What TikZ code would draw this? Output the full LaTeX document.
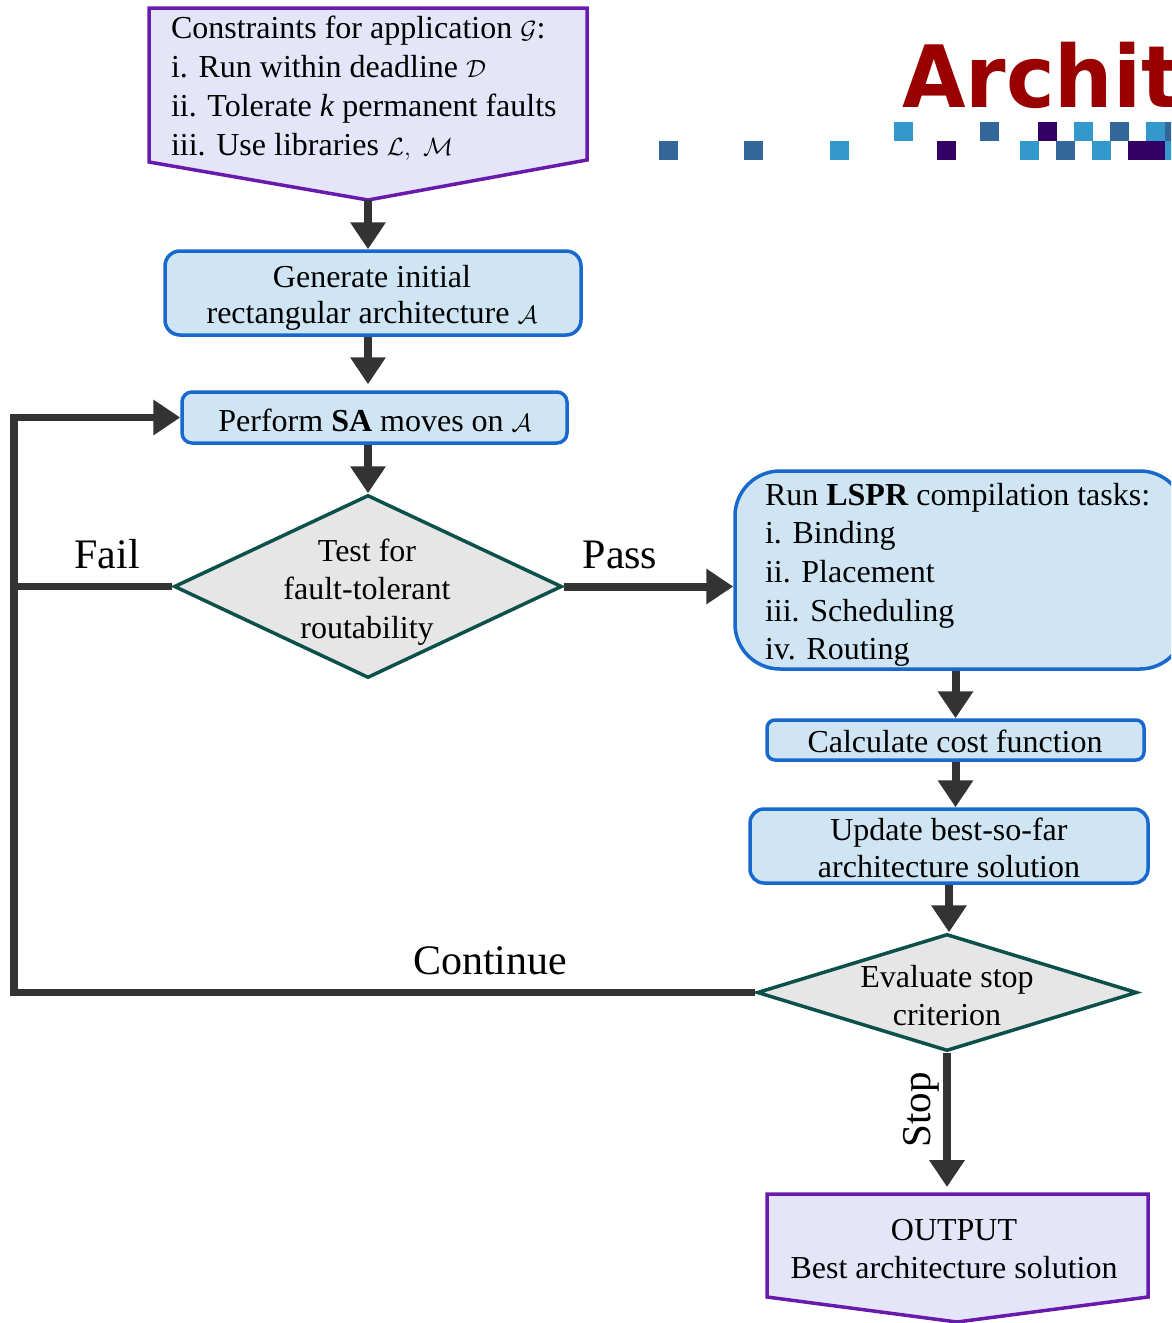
\documentclass[tikz,border=0pt]{standalone}
\usepackage{fontspec}
\setmainfont{Liberation Serif}
\newfontfamily\logofont{DejaVu Sans}
\usetikzlibrary{arrows.meta,shapes.geometric}

\definecolor{procblue}{RGB}{24,104,206}
\definecolor{procfill}{RGB}{207,229,244}
\definecolor{decgreen}{RGB}{12,80,76}
\definecolor{decfill}{RGB}{230,230,230}
\definecolor{ioborder}{RGB}{104,26,172}
\definecolor{iofill}{RGB}{229,229,250}
\definecolor{flowgray}{RGB}{51,51,51}
\definecolor{logored}{RGB}{153,0,0}
\definecolor{sqsteel}{RGB}{51,102,153}
\definecolor{sqsky}{RGB}{51,153,204}
\definecolor{sqplum}{RGB}{51,0,102}

\begin{document}
\begin{tikzpicture}[x=1pt,y=-1pt,
  txt/.style={inner sep=0pt, outer sep=0pt, font=\fontsize{32}{38}\selectfont},
  lbl/.style={inner sep=0pt, outer sep=0pt, font=\fontsize{42}{48}\selectfont},
  procbox/.style={draw=procblue, fill=procfill, line width=3.5pt, inner sep=0pt},
  decision/.style={diamond, draw=decgreen, fill=decfill, line width=3.5pt, inner sep=0pt},
  iobox/.style={draw=ioborder, fill=iofill, line width=3.5pt, line join=miter},
  flow/.style={draw=flowgray, line width=8pt},
  arr/.style={flow, -{Triangle[width=34pt,length=27pt]}}
]
\useasboundingbox (0,0) rectangle (1171,1323);
\clip (0,0) rectangle (1171,1323);

% ---- title and square pattern
\node[anchor=base west, inner sep=0pt, xscale=0.955, text=logored,
      font=\logofont\bfseries\fontsize{86}{90}\selectfont] (logo) at (902,107) {Archite};
\foreach \x/\c in {659/sqsteel,744/sqsteel,830/sqsky,937/sqplum,1020/sqsky,
                   1056/sqsteel,1092/sqsky,1128/sqplum,1146/sqplum,1165/sqsky}
  \fill[\c] (\x,141) rectangle ++(19,19);
\foreach \x/\c in {894/sqsky,980/sqsteel,1038/sqplum,1074/sqsky,1110/sqsteel,
                   1146/sqsky,1165/sqsteel}
  \fill[\c] (\x,122) rectangle ++(19,19);

% ---- input constraints
\draw[iobox] (149,8) -- (587,8) -- (587,160) -- (368,200) -- (149,162) -- cycle;
\coordinate (constip) at (368,200);
\node[txt, anchor=base west, font=\fontsize{32}{39}\selectfont] (constxt) at (171,38)
  {\begin{tabular}[t]{@{}l@{}}
   Constraints for application $\mathcal{G}$:\\
   i. Run within deadline $\mathcal{D}$\\
   ii. Tolerate \textit{k} permanent faults\\
   iii. Use libraries $\mathcal{L},\ \mathcal{M}$
   \end{tabular}};

% ---- left column
\node[procbox, rounded corners=15pt, minimum width=416pt, minimum height=84pt] (gen) at (373,293) {};
\node[txt, anchor=base, font=\fontsize{32}{36}\selectfont] (gentxt) at (372,287)
  {\begin{tabular}[t]{@{}c@{}}Generate initial\\ rectangular architecture $\mathcal{A}$\end{tabular}};

\node[procbox, rounded corners=10pt, minimum width=385pt, minimum height=51pt] (sa) at (374.5,417.5) {};
\node[txt, anchor=base] (satxt) at (375,431) {Perform \textbf{SA} moves on $\mathcal{A}$};

\node[decision, minimum width=388pt, minimum height=183pt] (test) at (368,586.5) {};
\node[txt, anchor=base, font=\fontsize{32}{38.5}\selectfont] (testtxt) at (367,561)
  {\begin{tabular}[t]{@{}c@{}}Test for\\ fault-tolerant\\ routability\end{tabular}};

% ---- right column
\node[procbox, rounded corners=45pt, minimum width=450pt, minimum height=198pt] (lspr) at (960,570) {};
\node[txt, anchor=base west, font=\fontsize{32}{38.7}\selectfont] (lsprtxt) at (765,505)
  {\begin{tabular}[t]{@{}l@{}}
   Run \textbf{LSPR} compilation tasks:\\
   i. Binding\\
   ii. Placement\\
   iii. Scheduling\\
   iv. Routing
   \end{tabular}};

\node[procbox, rounded corners=8pt, minimum width=377pt, minimum height=40pt] (calc) at (955.5,740) {};
\node[txt, anchor=base] (calctxt) at (955,752) {Calculate cost function};

\node[procbox, rounded corners=14pt, minimum width=398pt, minimum height=74pt] (upd) at (949,846) {};
\node[txt, anchor=base, font=\fontsize{32}{37}\selectfont] (updtxt) at (949,840)
  {\begin{tabular}[t]{@{}c@{}}Update best-so-far\\ architecture solution\end{tabular}};

\node[decision, minimum width=380pt, minimum height=117pt] (eval) at (947,992.5) {};
\node[txt, anchor=base, font=\fontsize{32}{38}\selectfont] (evaltxt) at (947,987)
  {\begin{tabular}[t]{@{}c@{}}Evaluate stop\\ criterion\end{tabular}};

% ---- output
\draw[iobox] (767,1194) -- (1148,1194) -- (1148,1297) -- (957,1322) -- (767,1297) -- cycle;
\coordinate (outtop) at (957,1194);
\node[txt, anchor=base, font=\fontsize{32}{38}\selectfont] (outtxt) at (954,1240)
  {\begin{tabular}[t]{@{}c@{}}OUTPUT\\ Best architecture solution\end{tabular}};

% ---- connectors
\coordinate (loopx) at (14,0);
\draw[arr] (constip) -- (constip |- gen.north);
\draw[arr, shorten >=6pt] (gen.south -| constip) -- (constip |- sa.north);
\draw[arr] (sa.south -| test.north) -- (test.north);
\draw[arr] (test.east) -- (test.east -| lspr.west);
\draw[arr] (calc.north |- lspr.south) -- (calc.north);
\draw[arr] (calc.south) -- (calc.south |- upd.north);
\draw[arr] (upd.south) -- (upd.south |- eval.north);
\draw[arr, shorten >=7pt] (eval.south) -- (eval.south |- outtop);
\draw[arr, line width=7.5pt] (eval.west) -- (eval.west -| loopx) |- (sa.west);
\draw[flow, line width=7.5pt] (test.west) -- (test.west -| loopx);

% ---- branch labels
\node[lbl, anchor=base] (fail) at (107,568) {Fail};
\node[lbl, anchor=base] (pass) at (620,568) {Pass};
\node[lbl, anchor=base] (cont) at (490,974) {Continue};
\node[lbl, anchor=base, rotate=90, font=\fontsize{41}{48}\selectfont] (stop) at (930,1110) {Stop};
\end{tikzpicture}
\end{document}
